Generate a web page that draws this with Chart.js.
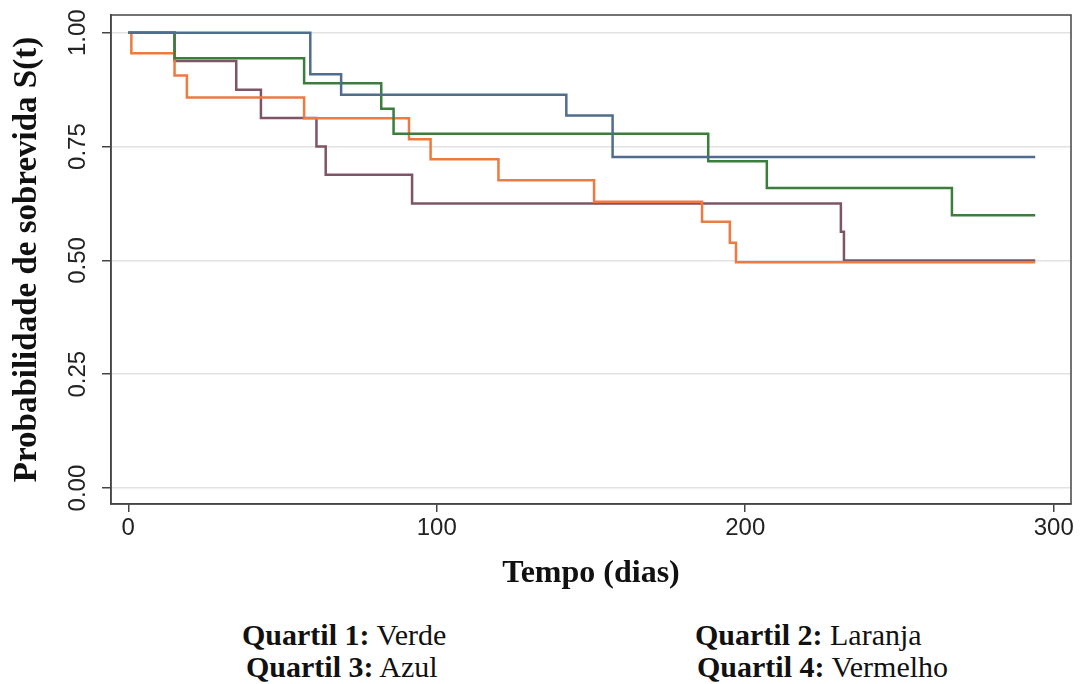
<!DOCTYPE html>
<html>
<head>
<meta charset="utf-8">
<script src="https://cdn.jsdelivr.net/npm/chart.js@4.4.1/dist/chart.umd.min.js"></script>
<style>
  html, body { margin: 0; padding: 0; background: #fff; }
  #wrap { position: relative; width: 1083px; height: 684px; }
  #box { position: absolute; left: 0; top: 0; width: 1083px; height: 600px; }
  .leg {
    position: absolute;
    font-family: "Liberation Serif", "Times New Roman", serif;
    font-size: 30px;
    line-height: 1;
    color: #111;
    white-space: nowrap;
  }
</style>
</head>
<body>
<div id="wrap">
  <div id="box"><canvas id="kmChart"></canvas></div>
  <div class="leg" style="left:242px; top:620px;"><b>Quartil 1:</b> Verde</div>
  <div class="leg" style="left:695px; top:620px;"><b>Quartil 2:</b> Laranja</div>
  <div class="leg" style="left:246px; top:652px;"><b>Quartil 3:</b> Azul</div>
  <div class="leg" style="left:697px; top:652px;"><b>Quartil 4:</b> Vermelho</div>
</div>
<script>
// Kaplan-Meier curves per quartile (time in days, survival probability after each step)
const tempoVerde = [0, 15, 57, 82, 86, 188, 207, 267, 294];
const sobrevidaVerde = [1, 0.944, 0.889, 0.833, 0.778, 0.718, 0.659, 0.599, 0.599];

const tempoLaranja = [0, 1, 15, 19, 57, 91, 98, 120, 151, 186, 195, 197, 294];
const sobrevidaLaranja = [1, 0.955, 0.906, 0.858, 0.812, 0.766, 0.722, 0.676, 0.629, 0.585, 0.539, 0.496, 0.496];

const tempoAzul = [0, 59, 69, 142, 157, 294];
const sobrevidaAzul = [1, 0.909, 0.864, 0.818, 0.727, 0.727];

const tempoVermelho = [0, 15, 35, 43, 61, 64, 92, 231, 232, 294];
const sobrevidaVermelho = [1, 0.938, 0.875, 0.813, 0.75, 0.688, 0.625, 0.563, 0.5, 0.5];

const xTicks = [0, 100, 200, 300];
const yTicks = [0, 0.25, 0.5, 0.75, 1];

function toPoints(tempo, sobrevida) {
  return tempo.map((t, i) => ({ x: t, y: sobrevida[i] }));
}

function curve(label, tempo, sobrevida, color, order) {
  return {
    label: label,
    data: toPoints(tempo, sobrevida),
    borderColor: color,
    borderWidth: 2.5,
    pointRadius: 0,
    stepped: 'before',
    fill: false,
    order: order
  };
}

// frame around the plot area (Stata style)
const framePlugin = {
  id: 'frame',
  afterDraw(chart) {
    const { ctx, chartArea: a } = chart;
    ctx.save();
    ctx.strokeStyle = '#444';
    ctx.lineWidth = 1.5;
    ctx.strokeRect(a.left, a.top, a.right - a.left, a.bottom - a.top);
    ctx.restore();
  }
};

const ctx = document.getElementById('kmChart').getContext('2d');
const kmChart = new Chart(ctx, {
  type: 'line',
  data: {
    datasets: [
      curve('Quartil 3: Azul', tempoAzul, sobrevidaAzul, '#4f6d8c', 0),
      curve('Quartil 1: Verde', tempoVerde, sobrevidaVerde, '#3b7d3b', 1),
      curve('Quartil 2: Laranja', tempoLaranja, sobrevidaLaranja, '#ee7a40', 2),
      curve('Quartil 4: Vermelho', tempoVermelho, sobrevidaVermelho, '#7e5566', 3)
    ]
  },
  options: {
    responsive: true,
    maintainAspectRatio: false,
    animation: false,
    layout: { padding: { top: 15, right: 12, left: 0, bottom: 0 } },
    plugins: {
      legend: { display: false },
      tooltip: { enabled: false }
    },
    scales: {
      x: {
        type: 'linear',
        min: -5.6,
        max: 305.6,
        afterBuildTicks: s => { s.ticks = xTicks.map(v => ({ value: v })); },
        afterFit: s => { s.height = 96; },
        grid: { drawOnChartArea: false, tickLength: 8, tickColor: '#444', lineWidth: 1.5 },
        border: { display: true, color: '#444', width: 1.5 },
        ticks: {
          color: '#222',
          padding: 2,
          maxRotation: 0,
          font: { family: 'Liberation Sans', size: 24 }
        },
        title: {
          display: true,
          text: 'Tempo (dias)',
          color: '#111',
          font: { family: 'Liberation Serif', size: 32, weight: 'bold' },
          padding: { top: 0, bottom: 7 }
        }
      },
      y: {
        min: -0.035,
        max: 1.039,
        afterBuildTicks: s => { s.ticks = yTicks.map(v => ({ value: v })); },
        afterFit: s => { s.width = 111; },
        grid: { color: '#e2e2e2', lineWidth: 1.5, tickLength: 9, tickColor: '#444' },
        border: { display: true, color: '#444', width: 1.5 },
        ticks: {
          color: '#222',
          padding: 0,
          minRotation: 90,
          maxRotation: 90,
          crossAlign: 'center',
          font: { family: 'Liberation Sans', size: 24 },
          callback: v => v.toFixed(2)
        },
        title: {
          display: true,
          text: 'Probabilidade de sobrevida S(t)',
          color: '#111',
          font: { family: 'Liberation Serif', size: 33, weight: 'bold' },
          padding: { top: 8, bottom: 0 }
        }
      }
    }
  },
  plugins: [framePlugin]
});
</script>
</body>
</html>
